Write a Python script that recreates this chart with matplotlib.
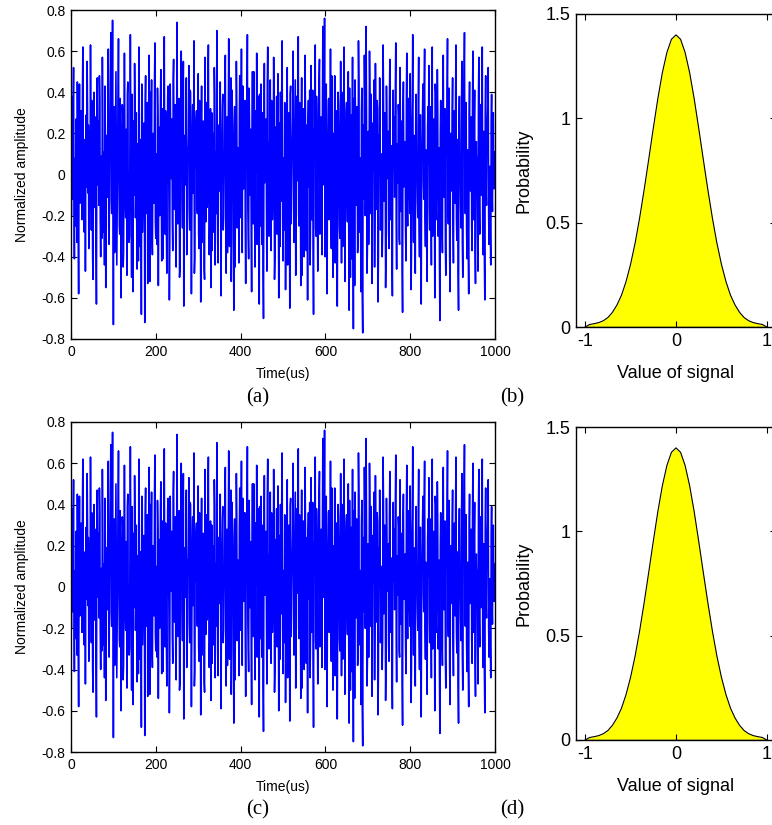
import numpy as np
import matplotlib
matplotlib.use("Agg")
import matplotlib.pyplot as plt

plt.rcParams.update({
    "font.family": ["Liberation Sans", "DejaVu Sans"],
    "axes.unicode_minus": False,
})

# 归一化噪声信号（单位 0.01），采样间隔 1 us：偶数点与奇数点分开存放
SIGNAL_EVEN = [
    5, 38, -12, 52, -41, 8, 27, -33, 15, -58, 44, -6, 31, -22, 62, -18, 3, -47, 29, 55, -9, -36, 21, 63, -27,
    12, -51, 40, -4, 18, -63, 47, 26, -15, 36, -40, 9, 57, -28, 2, 43, -55, 19, -11, 61, -34, 24, 69, -19, 75,
    -73, 33, -8, 50, -44, 14, 66, -25, 37, -60, 7, 28, -38, 59, -13, 22, -49, 45, 1, -30, 68, -16, 39, -57, 11,
    54, -21, 30, -46, 4, 62, -35, 17, -68, 41, -10, 25, -72, 48, -3, 35, -26, 58, -52, 13, 46, -39, 20, -14, 64,
    -31, 6, 42, -54, 23, -7, 51, -42, 32, -20, 67, -29, 10, -48, 38, 16, -61, 44, -2, 27, -37, 56, -17, 34, -45,
    74, -24, 12, -50, 29, 60, -11, 37, -64, 19, -5, 47, -33, 8, 53, -27, 40, -58, 21, -9, 65, -41, 3, 31, -19,
    49, -36, 14, -62, 43, -1, 26, -46, 57, -23, 35, -12, 63, -39, 18, -55, 30, 6, -28, 52, -44, 11, 70, -32, 24,
    -8, 45, -59, 16, 39, -21, 2, 58, -48, 28, -14, 66, -35, 9, -52, 41, 20, -66, 33, -4, 55, -26, 13, -43, 48,
    -17, 61, -38, 25, -6, 36, -53, 15, 68, -30, 42, -10, 22, -57, 50, -24, 7, -45, 31, 59, -15, 38, -63, 4, 44,
    -34, 19, -70, 54, -2, 27, -47, 62, -20, 11, 46, -37, 33, -9, 57, -51, 23, 3, -29, 49, -60, 17, 40, -13, 65,
    -42, 8, 35, -56, 21, 52, -18, 30, -65, 43, -7, 14, 60, -33, 26, -49, 38, -3, 67, -25, 10, -54, 47, -16, 32,
    -40, 58, -12, 24, -61, 36, 1, -44, 53, -22, 41, -68, 18, 63, -30, 9, -47, 34, 56, -14, 28, -39, 72, -5, 76,
    -26, 44, -58, 15, 37, -9, 61, -36, 22, -50, 6, 48, -19, 31, -64, 40, 12, -31, 55, -43, 27, -11, 62, -52, 18,
    35, -23, 50, -66, 4, 29, -41, 57, -75, 20, 46, -15, 33, -38, 65, -28, 8, -57, 42, -77, 24, 58, -20, 72, -48,
    13, -34, 60, -6, 39, -53, 25, 2, -45, 54, -17, 36, -62, 19, 47, -27, 10, -40, 63, -13, 30, -55, 43, -2, 21,
    -36, 56, -22, 14, -59, 41, 28, -10, 64, -46, 7, 34, -31, 52, -18, 26, -67, 45, -4, 16, -42, 59, -25, 37, -8,
    49, -56, 22, 68, -33, 11, -48, 39, 3, -21, 57, -40, 29, -63, 15, 44, -12, 61, -35, 6, -52, 33, 53, -27, 18,
    -44, 62, -16, 27, -60, 40, -5, 51, -30, 13, -71, 36, 24, -38, 58, -11, 32, -49, 9, 66, -24, 42, -57, 20, -3,
    47, -43, 31, -14, 63, -32, 17, -66, 38, 5, -26, 55, -50, 23, 69, -19, 35, -41, 12, -58, 45, -8, 28, -37, 60,
    -22, 41, -53, 16, 8, -47, 57, -29, 34, -10, 62, -39, 21, -61, 48, -15, 26, 52, -34, 4, -44, 39, -18, 30, -7,
]
SIGNAL_ODD = [
    -20, 14, 31, -8, 2, -25, 10, 45, -30, 6, -14, 22, -3, 40, -11, -28, 17, 9, -6, 33, 24, -18, -2, 12, 36,
    -40, 7, -16, 28, -35, 20, -5, 13, 48, -22, 4, -31, 25, 11, -44, 19, 2, -9, 37, -26, 8, 50, -12, 30, -4,
    16, -38, 23, -1, -15, 42, 6, -29, 18, -7, 34, -45, 10, 27, -21, 3, 39, -13, -33, 14, 21, -50, 5, 26, -10,
    32, -6, -24, 15, -42, 29, 1, -17, 44, -28, 9, -3, 35, -19, 12, -53, 24, -8, 40, 16, -30, 4, -12, 47, -23,
    10, -34, 27, 3, -20, 38, -9, 15, -41, 22, -1, 31, -27, 6, 43, -14, -35, 20, 11, -24, 46, -5, 17, -32, 8,
    25, -15, 37, -46, 2, 19, -26, 55, -10, -3, 30, -39, 13, 21, -17, 41, -7, -22, 34, 5, -48, 18, 27, -11, 9,
    -29, 36, -4, 16, -33, 24, 12, -51, 7, 28, -16, 45, -2, -25, 32, 10, -37, 20, -8, 39, 3, -19, 26, -43, 14,
    22, -12, 6, 33, -27, 1, 40, -20, 15, -38, 29, -5, 11, 47, -31, 17, -9, 24, -45, 8, 35, -14, 2, 28, -21,
    13, -36, 43, -7, 19, -23, 4, 37, -15, -41, 26, 9, -28, 16, -6, 50, -18, 31, 1, -34, 21, -11, 39, -25, 7,
    30, -47, 12, -4, 23, -16, 44, 5, -30, 18, -9, 36, -22, 3, 27, -40, 14, 38, -13, -2, 25, -35, 10, 42, -19,
    6, -27, 34, -11, 20, -44, 15, 2, 39, -24, 9, 28, -17, -5, 46, -32, 21, 7, -20, 35, -8, 13, -49, 24, 1,
    -15, 30, -37, 11, 26, -6, 41, -21, 17, -3, -33, 22, 8, -26, 38, -12, 4, 45, -29, 16, -10, 33, -4, 19, -40,
    27, -14, 5, 36, -22, 12, -8, 48, -31, 20, 2, -43, 29, 9, -18, 34, -25, 15, -1, 40, -35, 23, 6, -16, 31,
    -9, 18, -28, 42, -50, 14, 3, -20, 37, -54, 25, -7, 11, -32, 44, 1, -24, 30, -60, 19, -12, 35, -5, 28, -38,
    21, -2, 39, -19, 8, -30, 16, 46, -13, 24, -6, 32, -42, 10, 27, -15, 4, -26, 41, -9, 18, -36, 22, 12, -28,
    34, -17, 7, -39, 26, 3, -11, 43, -23, 15, -4, 29, -34, 20, 9, -45, 31, -6, 13, -27, 38, -14, 2, 24, -19,
    11, -40, 35, -8, 19, -29, 26, 1, -13, 37, -24, 16, -46, 8, 30, -3, 41, -20, 12, -37, 23, 5, -16, 33, -10,
    28, -30, 14, -5, 44, -22, 6, 31, -18, -41, 20, 10, -26, 36, -2, 17, -35, 25, 42, -14, 7, -39, 13, -8, 30,
    -24, 19, -11, 40, -21, 9, -47, 24, 3, -16, 35, -33, 14, 46, -7, 22, -28, 5, -38, 29, -3, 17, -25, 38, -13,
    26, -36, 10, 2, -30, 39, -15, 21, -5, 43, -26, 12, -42, 31, -8, 16, 34, -20, 1, -29, 24, -10, 18, -3, 11,
]
SAMPLE_STEP_US = 1

# 概率密度曲线
PDF_X = [-1.0, -0.95, -0.9, -0.85, -0.8, -0.75, -0.7, -0.65, -0.6, -0.55, -0.5,
         -0.45, -0.4, -0.35, -0.3, -0.25, -0.2, -0.15, -0.1, -0.05, 0.0,
         0.05, 0.1, 0.15, 0.2, 0.25, 0.3, 0.35, 0.4, 0.45, 0.5,
         0.55, 0.6, 0.65, 0.7, 0.75, 0.8, 0.85, 0.9, 0.95, 1.0]
PDF_Y = [0.0, 0.012, 0.016, 0.021, 0.03, 0.045, 0.07, 0.105, 0.152, 0.217, 0.30,
         0.402, 0.523, 0.659, 0.804, 0.952, 1.094, 1.219, 1.316, 1.379, 1.40,
         1.379, 1.316, 1.219, 1.094, 0.952, 0.804, 0.659, 0.523, 0.402, 0.30,
         0.217, 0.152, 0.105, 0.07, 0.045, 0.03, 0.021, 0.016, 0.012, 0.0]

TIME_TICKS = [0, 200, 400, 600, 800, 1000]
AMP_TICKS = [-0.8, -0.6, -0.4, -0.2, 0, 0.2, 0.4, 0.6, 0.8]
VAL_TICKS = [-1, 0, 1]
PROB_TICKS = [0, 0.5, 1, 1.5]
CAPTIONS = ["(a)", "(b)", "(c)", "(d)"]

W, H = 772, 825


def rect(x0, y0, x1, y1):
    # 像素坐标 -> figure 坐标
    return [x0 / W, 1 - y1 / H, (x1 - x0) / W, (y1 - y0) / H]


def style_axes(ax, fs):
    ax.tick_params(direction="in", top=True, right=True, length=4, width=0.8,
                   labelsize=fs, pad=4)
    for s in ax.spines.values():
        s.set_linewidth(1.0)


def draw_signal(ax):
    sig = np.empty(len(SIGNAL_EVEN) + len(SIGNAL_ODD))
    sig[0::2] = SIGNAL_EVEN
    sig[1::2] = SIGNAL_ODD
    sig = sig / 100.0
    t = np.arange(len(sig)) * SAMPLE_STEP_US
    ax.plot(t, sig, color="#0000ff", lw=1.15)
    ax.set_xlim(0, 1000)
    ax.set_ylim(-0.8, 0.8)
    ax.set_xticks(TIME_TICKS)
    ax.set_yticks(AMP_TICKS)
    ax.set_yticklabels(["%g" % v for v in AMP_TICKS])
    style_axes(ax, 10)
    ax.set_xlabel("Time(us)", fontsize=10)
    ax.xaxis.set_label_coords(0.5, -0.085)
    ax.set_ylabel("Normalized amplitude", fontsize=10)
    ax.yaxis.set_label_coords(-0.1, 0.5)


def draw_pdf(ax):
    ax.fill_between(PDF_X, PDF_Y, 0, color="#ffff00", lw=0)
    ax.plot(PDF_X, PDF_Y, color="#000000", lw=0.8)
    ax.plot([PDF_X[0], PDF_X[-1]], [0, 0], color="#101060", lw=1.0)
    ax.set_xlim(-1.1, 1.1)
    ax.set_ylim(0, 1.5)
    ax.set_xticks(VAL_TICKS)
    ax.set_yticks(PROB_TICKS)
    ax.set_xticklabels(["%g" % v for v in VAL_TICKS])
    ax.set_yticklabels(["%g" % v for v in PROB_TICKS])
    style_axes(ax, 13)
    ax.set_xlabel("Value of signal", fontsize=13)
    ax.xaxis.set_label_coords(0.5, -0.12)
    ax.set_ylabel("Probability", fontsize=13)
    ax.yaxis.set_label_coords(-0.22, 0.5)


def main():
    fig = plt.figure(figsize=(W / 100, H / 100), dpi=100)

    ax_a = fig.add_axes(rect(71, 10, 495, 339))
    ax_b = fig.add_axes(rect(576, 14, 776, 327))
    ax_c = fig.add_axes(rect(71, 422, 495, 752))
    ax_d = fig.add_axes(rect(576, 427, 776, 740))

    draw_signal(ax_a)
    draw_signal(ax_c)
    draw_pdf(ax_b)
    draw_pdf(ax_d)

    cap_pos = [(258, 398), (512, 398), (258, 810), (512, 810)]
    for (cx, cy), lab in zip(cap_pos, CAPTIONS):
        fig.text(cx / W, 1 - cy / H, lab, ha="center", va="center",
                 fontsize=15, family=["Liberation Serif", "DejaVu Serif"])

    fig.savefig("out.png", dpi=100, facecolor="white")
    plt.close(fig)


if __name__ == "__main__":
    main()
